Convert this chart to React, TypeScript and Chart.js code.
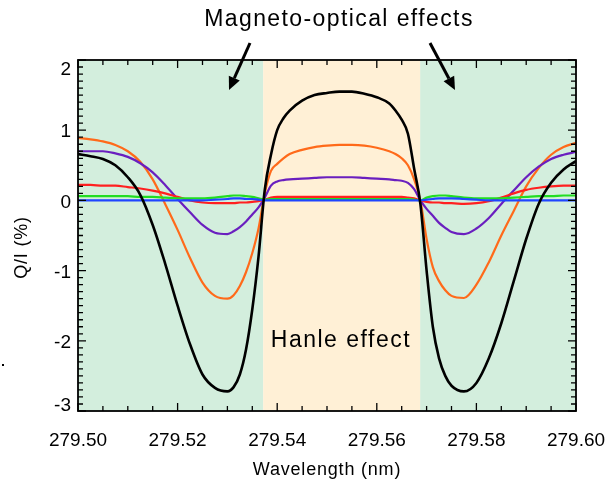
import React, { useEffect, useRef } from "react";
import { Chart, registerables } from "chart.js";

Chart.register(...registerables);

// Wavelength grid (nm), denser near the two zero crossings
const wavelength = [
  279.5, 279.5025, 279.505, 279.5075, 279.51, 279.5125, 279.515, 279.5175, 279.52, 279.5225,
  279.525, 279.5275, 279.53, 279.53125, 279.5325, 279.53375, 279.535, 279.53625, 279.5375, 279.53875,
  279.54, 279.54125, 279.5425, 279.545, 279.5475, 279.55, 279.5525, 279.555, 279.5575, 279.56,
  279.5625, 279.56375, 279.565, 279.56625, 279.5675, 279.56875, 279.57, 279.57125, 279.5725, 279.57375,
  279.575, 279.5775, 279.58, 279.5825, 279.585, 279.5875, 279.59, 279.5925, 279.595, 279.5975,
  279.6,
];

// Q/I (%) profiles
const qBlack = [
  0.66, 0.63, 0.59, 0.5, 0.33, 0.08, -0.35, -0.9, -1.5, -2.05,
  -2.48, -2.67, -2.72, -2.66, -2.48, -2.12, -1.55, -0.8, 0.15, 0.65,
  1.0, 1.17, 1.28, 1.42, 1.5, 1.53, 1.55, 1.55, 1.52, 1.47,
  1.38, 1.28, 1.15, 0.95, 0.45, -0.05, -1.0, -1.8, -2.25, -2.5,
  -2.64, -2.72, -2.6, -2.25, -1.75, -1.15, -0.55, -0.05, 0.25, 0.44,
  0.56,
];
const qOrange = [
  0.89, 0.87, 0.84, 0.79, 0.7, 0.55, 0.3, -0.05, -0.42, -0.82,
  -1.17, -1.36, -1.4, -1.35, -1.22, -1.02, -0.75, -0.4, 0.1, 0.42,
  0.52, 0.6, 0.66, 0.72, 0.76, 0.78, 0.79, 0.79, 0.78, 0.75,
  0.7, 0.66, 0.6, 0.5, 0.3, 0.0, -0.55, -0.95, -1.15, -1.28,
  -1.36, -1.39, -1.2, -0.88, -0.5, -0.15, 0.2, 0.46, 0.65, 0.76,
  0.82,
];
const qPurple = [
  0.7, 0.7, 0.7, 0.67, 0.62, 0.53, 0.4, 0.22, 0.02, -0.17,
  -0.35, -0.46, -0.48, -0.44, -0.38, -0.3, -0.2, -0.1, 0.04, 0.21,
  0.27, 0.29, 0.3, 0.31, 0.32, 0.33, 0.33, 0.33, 0.32, 0.31,
  0.3, 0.29, 0.28, 0.25, 0.16, 0.0, -0.12, -0.22, -0.32, -0.39,
  -0.45, -0.48, -0.4, -0.25, -0.05, 0.14, 0.33, 0.48, 0.59, 0.65,
  0.69,
];
const qRed = [
  0.22, 0.22, 0.21, 0.21, 0.19, 0.17, 0.14, 0.1, 0.05, 0.0,
  -0.03, -0.04, -0.04, -0.04, -0.03, -0.03, -0.02, -0.01, 0.01, 0.04,
  0.05, 0.05, 0.05, 0.05, 0.05, 0.05, 0.05, 0.05, 0.05, 0.05,
  0.05, 0.05, 0.05, 0.04, 0.03, 0.0, -0.02, -0.03, -0.03, -0.04,
  -0.04, -0.05, -0.04, -0.01, 0.04, 0.1, 0.15, 0.18, 0.2, 0.21,
  0.21,
];
const qGreen = [
  0.06, 0.06, 0.06, 0.06, 0.06, 0.05, 0.05, 0.04, 0.03, 0.03,
  0.03, 0.04, 0.06, 0.07, 0.07, 0.06, 0.05, 0.03, 0.01, 0.02,
  0.02, 0.02, 0.02, 0.02, 0.02, 0.02, 0.02, 0.02, 0.02, 0.02,
  0.02, 0.02, 0.02, 0.02, 0.01, 0.0, 0.04, 0.06, 0.07, 0.07,
  0.06, 0.04, 0.03, 0.03, 0.03, 0.04, 0.05, 0.06, 0.06, 0.07,
  0.07,
];
const qBlue = [
  0.0, 0.0, 0.0, 0.0, 0.0, 0.0, 0.0, 0.0, 0.0, 0.0,
  0.0, 0.01, 0.02, 0.03, 0.03, 0.02, 0.02, 0.01, 0.0, 0.0,
  0.0, 0.0, 0.0, 0.0, 0.0, 0.0, 0.0, 0.0, 0.0, 0.0,
  0.0, 0.0, 0.0, 0.0, 0.0, 0.0, 0.01, 0.02, 0.03, 0.03,
  0.03, 0.02, 0.01, 0.0, 0.0, 0.0, 0.0, 0.0, 0.0, 0.0,
  0.0,
];

// Axis ticks and labels
const xTickValues = [279.5, 279.52, 279.54, 279.56, 279.58, 279.6];
const xTickLabels = ["279.50", "279.52", "279.54", "279.56", "279.58", "279.60"];
const yTickValues = [-3, -2, -1, 0, 1, 2];
const yTickLabels = ["-3", "-2", "-1", "0", "1", "2"];

// Hanle-dominated core between the two crossing points
const hanleRange = [279.5372, 279.5687];

const FONT = "'Liberation Sans', Arial, Helvetica, sans-serif";

const panelPlugin = {
  id: "panel",
  beforeDatasetsDraw(chart: any) {
    const { ctx, chartArea: a, scales } = chart;
    const x = scales.x;
    const x1 = x.getPixelForValue(hanleRange[0]);
    const x2 = x.getPixelForValue(hanleRange[1]);
    ctx.save();
    ctx.fillStyle = "#d3eedd";
    ctx.fillRect(a.left, a.top, x1 - a.left, a.bottom - a.top);
    ctx.fillRect(x2, a.top, a.right - x2, a.bottom - a.top);
    ctx.fillStyle = "#fff0d6";
    ctx.fillRect(x1, a.top, x2 - x1, a.bottom - a.top);
    ctx.restore();
  },
  afterDatasetsDraw(chart: any) {
    const { ctx, chartArea: a, scales } = chart;
    const x = scales.x;
    const y = scales.y;
    ctx.save();
    ctx.strokeStyle = "#000";
    ctx.fillStyle = "#000";

    // inward ticks on all four sides
    ctx.lineWidth = 1.3;
    ctx.beginPath();
    for (let v = 0; v <= 20; v++) {
      const px = x.getPixelForValue(279.5 + v * 0.005);
      const len = v % 4 === 0 ? 8 : 5;
      ctx.moveTo(px, a.bottom);
      ctx.lineTo(px, a.bottom - len);
      ctx.moveTo(px, a.top);
      ctx.lineTo(px, a.top + len);
    }
    for (let v = -30; v <= 20; v++) {
      const py = y.getPixelForValue(v / 10);
      const len = v % 10 === 0 ? 8 : 5;
      ctx.moveTo(a.left, py);
      ctx.lineTo(a.left + len, py);
      ctx.moveTo(a.right, py);
      ctx.lineTo(a.right - len, py);
    }
    ctx.stroke();

    // frame
    ctx.lineWidth = 1.8;
    ctx.strokeRect(a.left, a.top, a.right - a.left, a.bottom - a.top);

    // tick labels
    ctx.font = `19px ${FONT}`;
    ctx.textAlign = "center";
    ctx.textBaseline = "middle";
    xTickValues.forEach((v, i) => {
      ctx.fillText(xTickLabels[i], x.getPixelForValue(v), a.bottom + 30);
    });
    ctx.textAlign = "right";
    yTickValues.forEach((v, i) => {
      const py = y.getPixelForValue(v) + 2;
      const cy = Math.min(Math.max(py, a.top + 10), a.bottom - 5);
      ctx.fillText(yTickLabels[i], a.left - 7, cy);
    });

    // axis titles
    ctx.font = `18px ${FONT}`;
    ctx.letterSpacing = "0.8px";
    ctx.textAlign = "center";
    ctx.fillText("Wavelength (nm)", (a.left + a.right) / 2, a.bottom + 59);
    ctx.save();
    ctx.translate(22, (a.top + a.bottom) / 2 + 12);
    ctx.rotate(-Math.PI / 2);
    ctx.fillText("Q/I (%)", 0, 0);
    ctx.restore();

    // annotations
    ctx.font = `23px ${FONT}`;
    ctx.letterSpacing = "1.4px";
    ctx.fillText("Magneto-optical effects", 339, 20);
    ctx.letterSpacing = "1.5px";
    ctx.fillText("Hanle effect", x.getPixelForValue(279.5528), 341);
    ctx.letterSpacing = "0px";

    const arrow = (fx: number, fy: number, tx: number, ty: number) => {
      const ang = Math.atan2(ty - fy, tx - fx);
      const head = 13;
      const hw = 6;
      const bx = tx - head * Math.cos(ang);
      const by = ty - head * Math.sin(ang);
      ctx.lineWidth = 3;
      ctx.beginPath();
      ctx.moveTo(fx, fy);
      ctx.lineTo(bx, by);
      ctx.stroke();
      ctx.beginPath();
      ctx.moveTo(tx, ty);
      ctx.lineTo(bx + hw * Math.sin(ang), by - hw * Math.cos(ang));
      ctx.lineTo(bx - hw * Math.sin(ang), by + hw * Math.cos(ang));
      ctx.closePath();
      ctx.fill();
    };
    arrow(250, 43, 229, 90);
    arrow(430, 43, 455, 90);

    // small mark at the left margin
    ctx.fillRect(2, 364, 2, 2);
    ctx.restore();
  },
};

export default function App() {
  const ref = useRef<HTMLCanvasElement | null>(null);

  useEffect(() => {
    document.body.style.margin = "0";
    if (!ref.current) return;
    const mk = (data: number[], color: string, width: number, order: number) => ({
      data: wavelength.map((w, i) => ({ x: w, y: data[i] })),
      borderColor: color,
      borderWidth: width,
      pointRadius: 0,
      cubicInterpolationMode: "monotone" as const,
      fill: false,
      order,
    });
    const chart = new Chart(ref.current, {
      type: "line",
      data: {
        datasets: [
          mk(qBlack, "#000000", 2.6, 0),
          mk(qBlue, "#1f45ff", 2.2, 1),
          mk(qGreen, "#22dd22", 2.2, 2),
          mk(qRed, "#ff2020", 2.2, 3),
          mk(qPurple, "#6a1fbf", 2.2, 4),
          mk(qOrange, "#ff6a1a", 2.2, 5),
        ],
      },
      options: {
        animation: false,
        responsive: false,
        maintainAspectRatio: false,
        events: [],
        layout: { padding: { left: 78, right: 32, top: 60, bottom: 74 } },
        plugins: { legend: { display: false }, tooltip: { enabled: false } },
        scales: {
          x: { type: "linear", min: 279.5, max: 279.6, display: false },
          y: { type: "linear", min: -3, max: 2, display: false },
        },
      },
      plugins: [panelPlugin],
    });
    return () => chart.destroy();
  }, []);

  return (
    <div style={{ width: 608, height: 485, background: "#fff" }}>
      <canvas ref={ref} width={608} height={485} style={{ display: "block" }} />
    </div>
  );
}
